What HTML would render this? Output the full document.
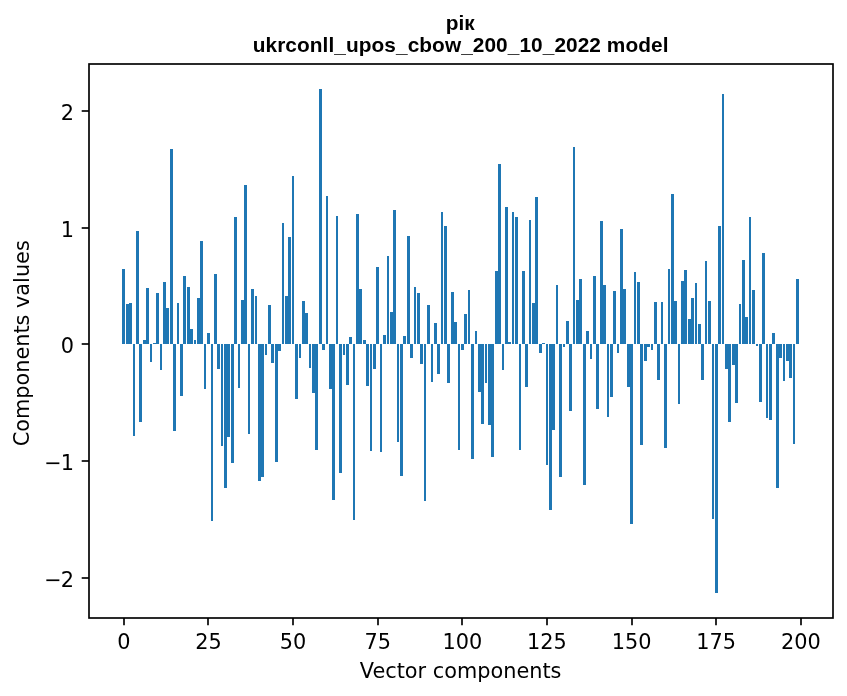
<!DOCTYPE html>
<html><head><meta charset="utf-8"><title>рік</title>
<style>
html,body{margin:0;padding:0;background:#fff;}
svg{display:block}
.t{font-family:"DejaVu Sans",sans-serif;font-size:20.83px;fill:#000}
.ti{font-family:"Liberation Sans",Arial,sans-serif;font-weight:bold;font-size:20.83px;fill:#000}
</style></head><body>
<svg width="847" height="696" viewBox="0 0 847 696">
<rect width="847" height="696" fill="#fff"/>
<g fill="#1f77b4" shape-rendering="crispEdges">

<rect x="122" y="269" width="3" height="75"/>
<rect x="126" y="304" width="3" height="40"/>
<rect x="129" y="303" width="3" height="41"/>
<rect x="133" y="344" width="2" height="92"/>
<rect x="136" y="231" width="3" height="113"/>
<rect x="139" y="344" width="3" height="78"/>
<rect x="143" y="340" width="3" height="4"/>
<rect x="146" y="288" width="3" height="56"/>
<rect x="150" y="344" width="2" height="18"/>
<rect x="153" y="343" width="3" height="1"/>
<rect x="156" y="293" width="3" height="51"/>
<rect x="160" y="344" width="2" height="26"/>
<rect x="163" y="282" width="3" height="62"/>
<rect x="166" y="308" width="3" height="36"/>
<rect x="170" y="149" width="3" height="195"/>
<rect x="173" y="344" width="3" height="87"/>
<rect x="177" y="303" width="2" height="41"/>
<rect x="180" y="344" width="3" height="52"/>
<rect x="183" y="276" width="3" height="68"/>
<rect x="187" y="287" width="3" height="57"/>
<rect x="190" y="329" width="3" height="15"/>
<rect x="194" y="340" width="2" height="4"/>
<rect x="197" y="298" width="3" height="46"/>
<rect x="200" y="241" width="3" height="103"/>
<rect x="204" y="344" width="2" height="45"/>
<rect x="207" y="333" width="3" height="11"/>
<rect x="211" y="344" width="2" height="177"/>
<rect x="214" y="274" width="3" height="70"/>
<rect x="217" y="344" width="3" height="25"/>
<rect x="221" y="344" width="2" height="102"/>
<rect x="224" y="344" width="3" height="144"/>
<rect x="227" y="344" width="3" height="93"/>
<rect x="231" y="344" width="3" height="119"/>
<rect x="234" y="217" width="3" height="127"/>
<rect x="238" y="344" width="2" height="44"/>
<rect x="241" y="300" width="3" height="44"/>
<rect x="244" y="185" width="3" height="159"/>
<rect x="248" y="344" width="2" height="90"/>
<rect x="251" y="289" width="3" height="55"/>
<rect x="255" y="296" width="2" height="48"/>
<rect x="258" y="344" width="3" height="137"/>
<rect x="261" y="344" width="3" height="133"/>
<rect x="265" y="344" width="2" height="11"/>
<rect x="268" y="305" width="3" height="39"/>
<rect x="271" y="344" width="3" height="19"/>
<rect x="275" y="344" width="3" height="118"/>
<rect x="278" y="344" width="3" height="7"/>
<rect x="282" y="223" width="2" height="121"/>
<rect x="285" y="296" width="3" height="48"/>
<rect x="288" y="237" width="3" height="107"/>
<rect x="292" y="176" width="2" height="168"/>
<rect x="295" y="344" width="3" height="55"/>
<rect x="299" y="344" width="2" height="14"/>
<rect x="302" y="301" width="3" height="43"/>
<rect x="305" y="313" width="3" height="31"/>
<rect x="309" y="344" width="2" height="24"/>
<rect x="312" y="344" width="3" height="49"/>
<rect x="315" y="344" width="3" height="106"/>
<rect x="319" y="89" width="3" height="255"/>
<rect x="322" y="344" width="3" height="6"/>
<rect x="326" y="196" width="2" height="148"/>
<rect x="329" y="344" width="3" height="45"/>
<rect x="332" y="344" width="3" height="156"/>
<rect x="336" y="216" width="2" height="128"/>
<rect x="339" y="344" width="3" height="129"/>
<rect x="343" y="344" width="2" height="11"/>
<rect x="346" y="344" width="3" height="41"/>
<rect x="349" y="337" width="3" height="7"/>
<rect x="353" y="344" width="2" height="176"/>
<rect x="356" y="214" width="3" height="130"/>
<rect x="359" y="289" width="3" height="55"/>
<rect x="363" y="340" width="3" height="4"/>
<rect x="366" y="344" width="3" height="42"/>
<rect x="370" y="344" width="2" height="107"/>
<rect x="373" y="344" width="3" height="25"/>
<rect x="376" y="267" width="3" height="77"/>
<rect x="380" y="344" width="2" height="108"/>
<rect x="383" y="335" width="3" height="9"/>
<rect x="387" y="256" width="2" height="88"/>
<rect x="390" y="312" width="3" height="32"/>
<rect x="393" y="210" width="3" height="134"/>
<rect x="397" y="344" width="2" height="98"/>
<rect x="400" y="344" width="3" height="132"/>
<rect x="403" y="336" width="3" height="8"/>
<rect x="407" y="236" width="3" height="108"/>
<rect x="410" y="344" width="3" height="14"/>
<rect x="414" y="287" width="2" height="57"/>
<rect x="417" y="293" width="3" height="51"/>
<rect x="420" y="344" width="3" height="20"/>
<rect x="424" y="344" width="2" height="157"/>
<rect x="427" y="305" width="3" height="39"/>
<rect x="431" y="344" width="2" height="38"/>
<rect x="434" y="323" width="3" height="21"/>
<rect x="437" y="344" width="3" height="30"/>
<rect x="441" y="212" width="2" height="132"/>
<rect x="444" y="226" width="3" height="118"/>
<rect x="447" y="344" width="3" height="39"/>
<rect x="451" y="292" width="3" height="52"/>
<rect x="454" y="322" width="3" height="22"/>
<rect x="458" y="344" width="2" height="106"/>
<rect x="461" y="344" width="3" height="6"/>
<rect x="464" y="314" width="3" height="30"/>
<rect x="468" y="290" width="2" height="54"/>
<rect x="471" y="344" width="3" height="115"/>
<rect x="475" y="331" width="2" height="13"/>
<rect x="478" y="344" width="3" height="48"/>
<rect x="481" y="344" width="3" height="80"/>
<rect x="485" y="344" width="2" height="39"/>
<rect x="488" y="344" width="3" height="81"/>
<rect x="491" y="344" width="3" height="113"/>
<rect x="495" y="271" width="3" height="73"/>
<rect x="498" y="164" width="3" height="180"/>
<rect x="502" y="344" width="2" height="26"/>
<rect x="505" y="207" width="3" height="137"/>
<rect x="508" y="342" width="3" height="2"/>
<rect x="512" y="212" width="2" height="132"/>
<rect x="515" y="217" width="3" height="127"/>
<rect x="519" y="344" width="2" height="106"/>
<rect x="522" y="271" width="3" height="73"/>
<rect x="525" y="344" width="3" height="43"/>
<rect x="529" y="220" width="2" height="124"/>
<rect x="532" y="303" width="3" height="41"/>
<rect x="535" y="197" width="3" height="147"/>
<rect x="539" y="344" width="3" height="9"/>
<rect x="542" y="343" width="3" height="1"/>
<rect x="546" y="344" width="2" height="121"/>
<rect x="549" y="344" width="3" height="166"/>
<rect x="552" y="344" width="3" height="86"/>
<rect x="556" y="285" width="2" height="59"/>
<rect x="559" y="344" width="3" height="133"/>
<rect x="563" y="344" width="2" height="3"/>
<rect x="566" y="321" width="3" height="23"/>
<rect x="569" y="344" width="3" height="67"/>
<rect x="573" y="147" width="2" height="197"/>
<rect x="576" y="300" width="3" height="44"/>
<rect x="579" y="279" width="3" height="65"/>
<rect x="583" y="344" width="3" height="141"/>
<rect x="586" y="331" width="3" height="13"/>
<rect x="590" y="344" width="2" height="15"/>
<rect x="593" y="276" width="3" height="68"/>
<rect x="596" y="344" width="3" height="65"/>
<rect x="600" y="221" width="3" height="123"/>
<rect x="603" y="285" width="3" height="59"/>
<rect x="607" y="344" width="2" height="73"/>
<rect x="610" y="344" width="3" height="53"/>
<rect x="613" y="291" width="3" height="53"/>
<rect x="617" y="344" width="2" height="9"/>
<rect x="620" y="229" width="3" height="115"/>
<rect x="623" y="289" width="3" height="55"/>
<rect x="627" y="344" width="3" height="43"/>
<rect x="630" y="344" width="3" height="180"/>
<rect x="634" y="272" width="2" height="72"/>
<rect x="637" y="282" width="3" height="62"/>
<rect x="640" y="344" width="3" height="101"/>
<rect x="644" y="344" width="3" height="17"/>
<rect x="647" y="344" width="3" height="3"/>
<rect x="651" y="344" width="2" height="6"/>
<rect x="654" y="302" width="3" height="42"/>
<rect x="657" y="344" width="3" height="36"/>
<rect x="661" y="302" width="2" height="42"/>
<rect x="664" y="344" width="3" height="104"/>
<rect x="668" y="269" width="2" height="75"/>
<rect x="671" y="194" width="3" height="150"/>
<rect x="674" y="301" width="3" height="43"/>
<rect x="678" y="344" width="2" height="60"/>
<rect x="681" y="281" width="3" height="63"/>
<rect x="684" y="270" width="3" height="74"/>
<rect x="688" y="319" width="3" height="25"/>
<rect x="691" y="298" width="3" height="46"/>
<rect x="695" y="283" width="2" height="61"/>
<rect x="698" y="324" width="3" height="20"/>
<rect x="701" y="344" width="3" height="36"/>
<rect x="705" y="261" width="2" height="83"/>
<rect x="708" y="301" width="3" height="43"/>
<rect x="712" y="344" width="2" height="175"/>
<rect x="715" y="344" width="3" height="249"/>
<rect x="718" y="226" width="3" height="118"/>
<rect x="722" y="94" width="2" height="250"/>
<rect x="725" y="344" width="3" height="25"/>
<rect x="728" y="344" width="3" height="78"/>
<rect x="732" y="344" width="3" height="21"/>
<rect x="735" y="344" width="3" height="59"/>
<rect x="739" y="304" width="2" height="40"/>
<rect x="742" y="260" width="3" height="84"/>
<rect x="745" y="317" width="3" height="27"/>
<rect x="749" y="217" width="2" height="127"/>
<rect x="752" y="290" width="3" height="54"/>
<rect x="756" y="344" width="2" height="2"/>
<rect x="759" y="344" width="3" height="58"/>
<rect x="762" y="253" width="3" height="91"/>
<rect x="766" y="344" width="2" height="74"/>
<rect x="769" y="344" width="3" height="76"/>
<rect x="772" y="333" width="3" height="11"/>
<rect x="776" y="344" width="3" height="144"/>
<rect x="779" y="344" width="3" height="14"/>
<rect x="783" y="344" width="2" height="37"/>
<rect x="786" y="344" width="3" height="17"/>
<rect x="789" y="344" width="3" height="34"/>
<rect x="793" y="344" width="2" height="100"/>
<rect x="796" y="279" width="3" height="65"/>
</g>
<g stroke="#000" stroke-width="1.67" fill="none">
<rect x="89" y="64" width="744" height="554" stroke-linejoin="miter"/>
<line x1="124" y1="618" x2="124" y2="625.30"/>
<line x1="208" y1="618" x2="208" y2="625.30"/>
<line x1="293" y1="618" x2="293" y2="625.30"/>
<line x1="378" y1="618" x2="378" y2="625.30"/>
<line x1="462" y1="618" x2="462" y2="625.30"/>
<line x1="547" y1="618" x2="547" y2="625.30"/>
<line x1="632" y1="618" x2="632" y2="625.30"/>
<line x1="716" y1="618" x2="716" y2="625.30"/>
<line x1="801" y1="618" x2="801" y2="625.30"/>
<line x1="89" y1="578" x2="81.70" y2="578"/>
<line x1="89" y1="461" x2="81.70" y2="461"/>
<line x1="89" y1="344" x2="81.70" y2="344"/>
<line x1="89" y1="228" x2="81.70" y2="228"/>
<line x1="89" y1="111" x2="81.70" y2="111"/>
</g>
<text class="t" x="123.84" y="649.3" text-anchor="middle">0</text>
<text class="t" x="208.47" y="649.3" text-anchor="middle">25</text>
<text class="t" x="293.10" y="649.3" text-anchor="middle">50</text>
<text class="t" x="377.73" y="649.3" text-anchor="middle">75</text>
<text class="t" x="462.36" y="649.3" text-anchor="middle">100</text>
<text class="t" x="546.99" y="649.3" text-anchor="middle">125</text>
<text class="t" x="631.62" y="649.3" text-anchor="middle">150</text>
<text class="t" x="716.25" y="649.3" text-anchor="middle">175</text>
<text class="t" x="800.88" y="649.3" text-anchor="middle">200</text>
<text class="t" x="74.0" y="586.88" text-anchor="end">−<tspan dx="-1">2</tspan></text>
<text class="t" x="74.0" y="470.14" text-anchor="end">−<tspan dx="-1">1</tspan></text>
<text class="t" x="74.0" y="353.40" text-anchor="end">0</text>
<text class="t" x="74.0" y="236.66" text-anchor="end">1</text>
<text class="t" x="74.0" y="119.92" text-anchor="end">2</text>
<text class="t" x="460.6" y="678.1" text-anchor="middle">Vector components</text>
<text class="t" transform="translate(29.2,343.3) rotate(-90)" text-anchor="middle">Components values</text>
<text class="ti" x="460.2" y="30.3" text-anchor="middle">рік</text>
<text class="ti" x="460.6" y="51.7" textLength="415.8" lengthAdjust="spacing" text-anchor="middle">ukrconll_upos_cbow_200_10_2022 model</text>
</svg></body></html>
